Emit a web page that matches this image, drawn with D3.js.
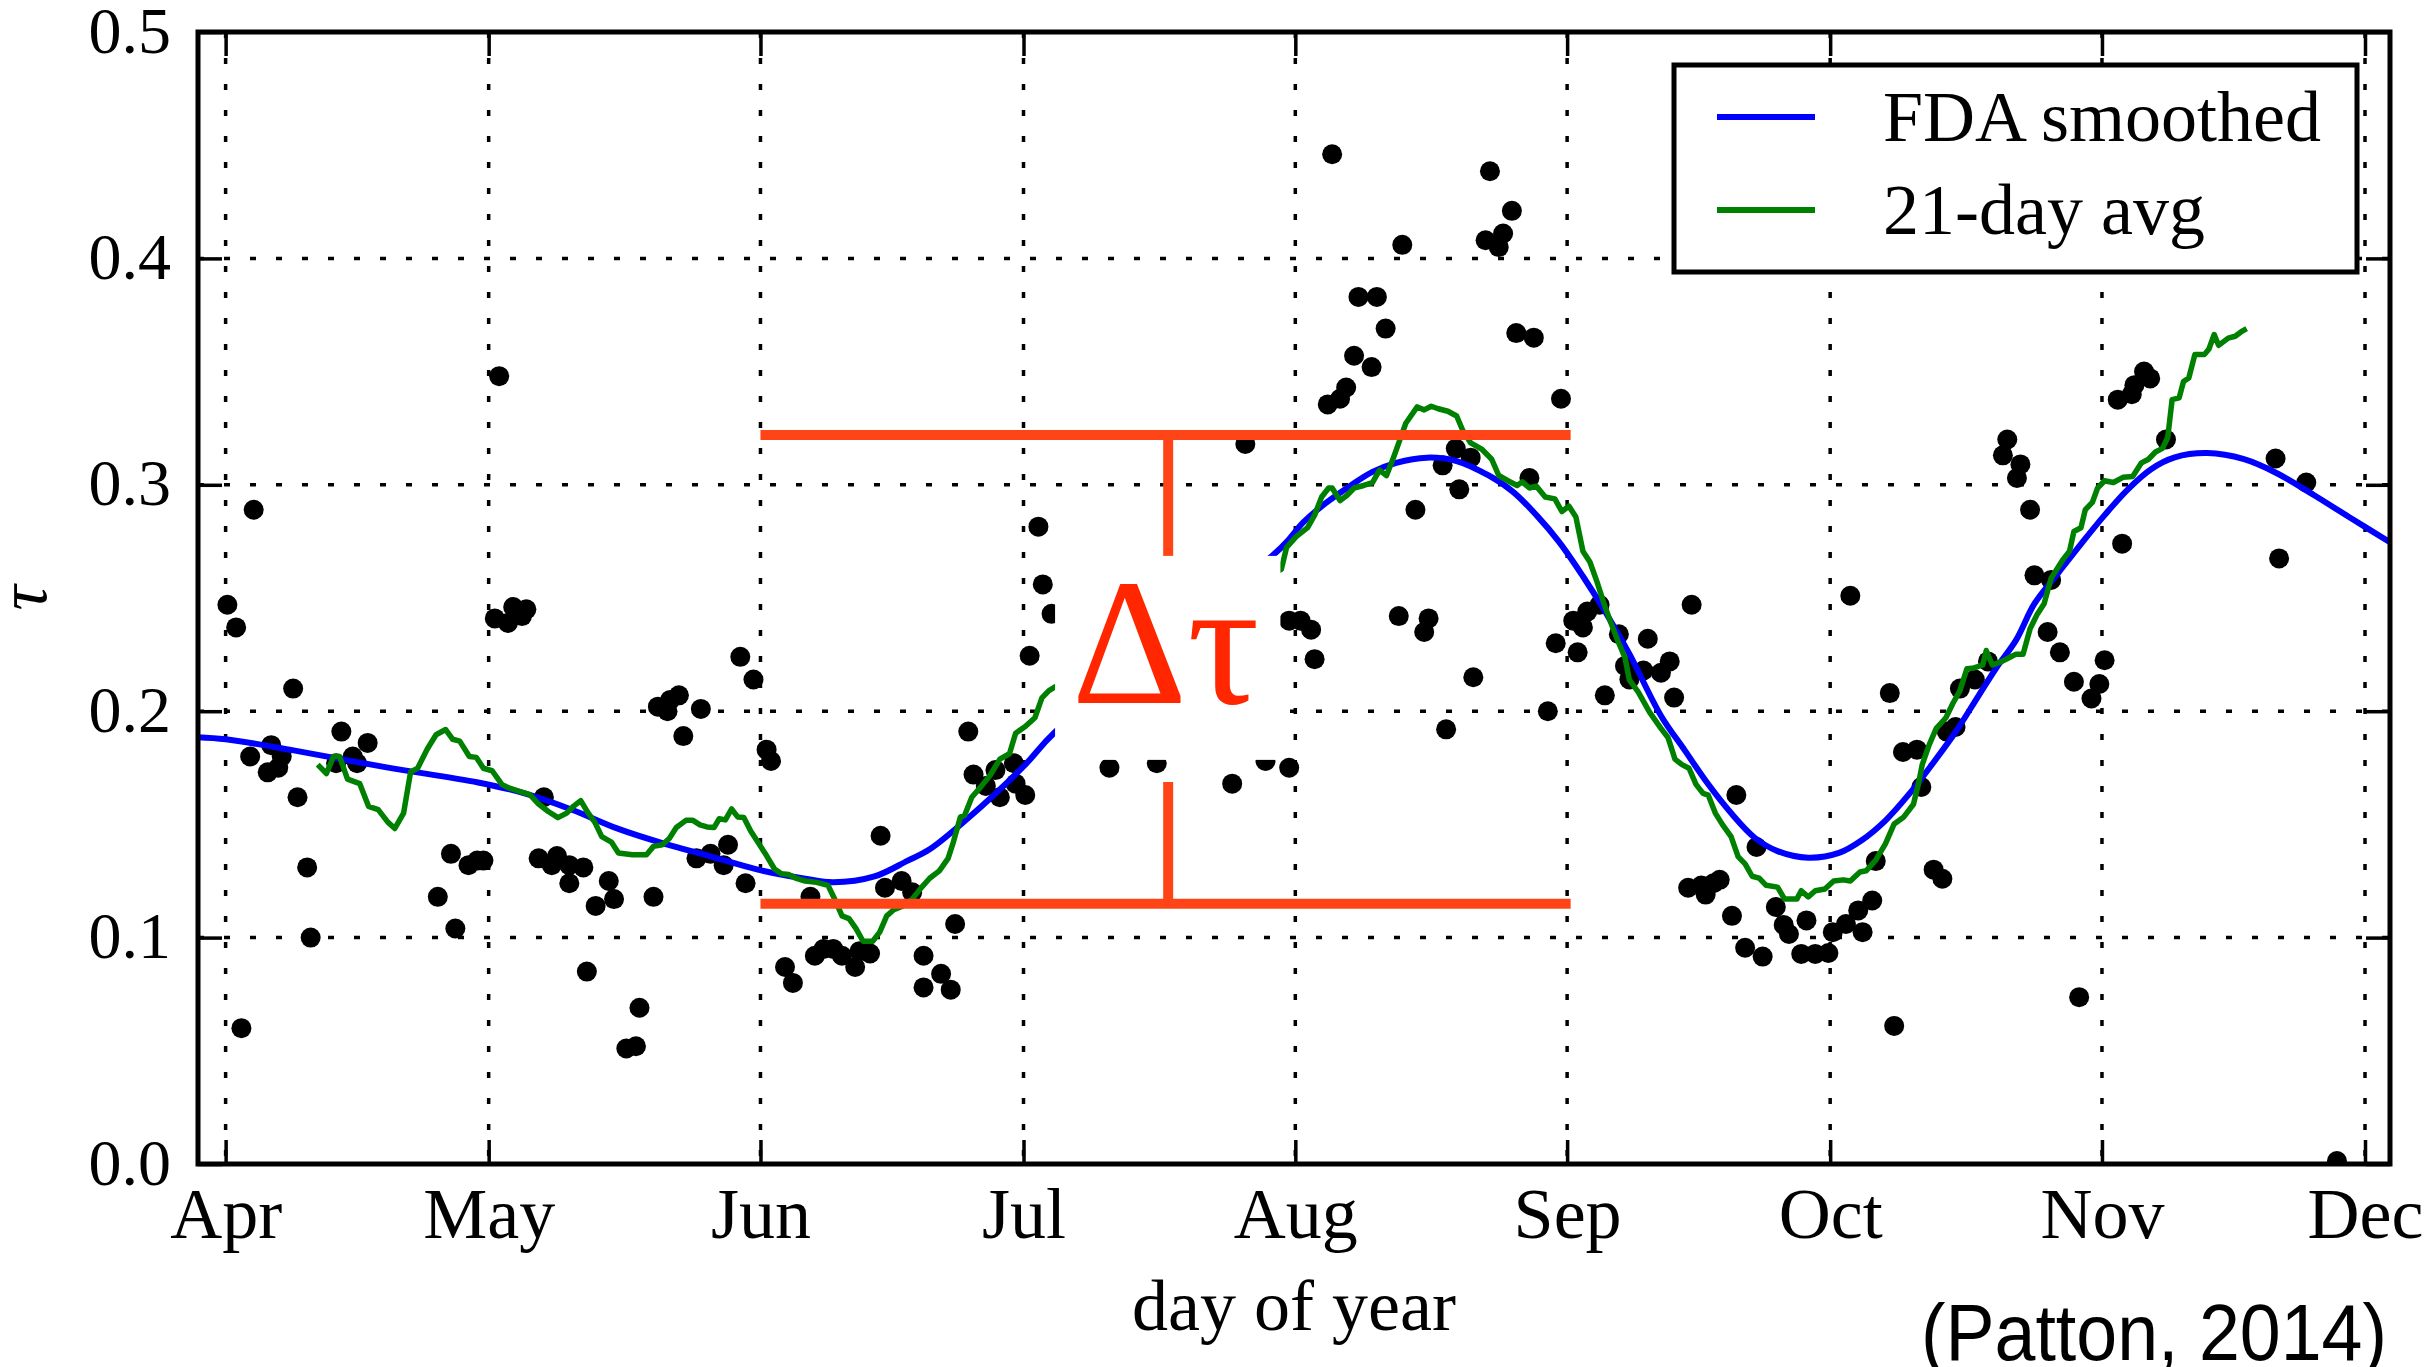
<!DOCTYPE html>
<html>
<head>
  <title>tau by day of year</title>
  <script src="https://d3js.org/d3.v7.min.js"></script>
  <style>
    body { margin: 0; background: #fff; }
    svg text { font-family: "Liberation Serif", "DejaVu Serif", serif; fill: #000; }
    .grid line { stroke: #000; stroke-width: 3.5; stroke-dasharray: 6, 20; }
    .axis path { display: none; }
    .axis line { stroke: #000; stroke-width: 3.5; }
  </style>
</head>
<body>
<div id="chart"></div>
<script>
  // month ticks, as day of year (2014)
  const monthDays = [91, 121, 152, 182, 213, 244, 274, 305, 335];
  const monthNames = ["Apr", "May", "Jun", "Jul", "Aug", "Sep", "Oct", "Nov", "Dec"];
  const tauTicks = [0, 0.1, 0.2, 0.3, 0.4, 0.5];

  // daily observations
  const obsDay = [91.2, 92.2, 92.8, 93.8, 94.2, 95.8, 96.2, 97.0, 97.4, 98.7, 99.2, 100.3, 100.7,
    103.6, 104.2, 105.5, 106.0, 107.2, 115.2, 116.7, 117.2, 118.7, 119.7, 120.4, 121.7, 122.2,
    123.2, 123.8, 124.8, 125.3, 126.7, 127.3, 128.2, 128.8, 130.2, 130.2, 131.8, 132.2, 133.2,
    134.7, 135.3, 136.7, 137.8, 138.2, 139.8, 140.3, 141.4, 141.7, 142.7, 143.2, 144.7, 145.2,
    146.3, 147.8, 148.3, 149.7, 150.3, 151.2, 152.7, 153.2, 154.8, 155.7, 157.7, 158.2, 159.2,
    160.3, 161.3, 162.8, 163.3, 164.5, 165.7, 166.2, 168.1, 169.3, 170.6, 170.6, 172.6, 173.7,
    174.2, 175.7, 176.3, 177.7, 178.8, 179.3, 180.9, 181.1, 182.2, 182.7, 183.7, 184.2, 185.2,
    191.8, 197.2, 205.8, 207.3, 209.6, 212.3, 212.3, 213.6, 214.8, 215.2, 216.7, 217.2, 218.1,
    218.8, 219.7, 220.2, 221.7, 222.3, 223.3, 224.8, 225.2, 226.7, 227.7, 228.2, 229.8, 230.2,
    231.3, 231.7, 233.0, 233.3, 234.7, 235.2, 236.2, 236.7, 237.7, 238.2, 239.7, 240.2, 241.8,
    242.7, 243.3, 244.7, 245.2, 245.8, 246.3, 247.7, 248.3, 249.9, 250.6, 251.1, 252.7, 253.2,
    254.7, 255.7, 256.2, 257.8, 258.2, 259.3, 259.8, 260.7, 261.4, 262.8, 263.3, 264.3, 265.6,
    266.3, 267.8, 268.7, 269.3, 270.7, 271.3, 272.3, 273.8, 274.3, 275.8, 276.3, 277.2, 277.7,
    278.8, 279.2, 280.8, 281.3, 282.3, 283.9, 284.4, 285.8, 286.8, 287.3, 288.3, 288.8, 290.5,
    292.0, 293.7, 294.2, 295.3, 295.7, 296.8, 297.3, 298.8, 299.2, 300.2, 301.8, 302.4, 303.8,
    304.7, 305.3, 306.8, 307.3, 308.4, 308.7, 309.8, 310.5, 312.3, 324.8, 325.2, 328.3, 331.8];
  const obsTau = [0.247, 0.237, 0.060, 0.180, 0.289, 0.173, 0.185, 0.175, 0.180, 0.210, 0.162, 0.131, 0.100,
    0.177, 0.191, 0.180, 0.177, 0.186, 0.118, 0.137, 0.104, 0.132, 0.134, 0.134, 0.241, 0.348,
    0.239, 0.246, 0.242, 0.245, 0.135, 0.162, 0.132, 0.136, 0.132, 0.124, 0.131, 0.085, 0.114,
    0.125, 0.117, 0.051, 0.052, 0.069, 0.118, 0.202, 0.200, 0.205, 0.207, 0.189, 0.135, 0.201,
    0.137, 0.132, 0.141, 0.224, 0.124, 0.214, 0.183, 0.178, 0.087, 0.080, 0.118, 0.092, 0.095,
    0.095, 0.092, 0.087, 0.094, 0.093, 0.145, 0.122, 0.125, 0.120, 0.092, 0.078, 0.084, 0.077,
    0.106, 0.191, 0.172, 0.167, 0.174, 0.162, 0.177, 0.168, 0.163, 0.2245, 0.2815, 0.256, 0.243,
    0.175, 0.177, 0.168, 0.318, 0.178, 0.175, 0.240, 0.240, 0.236, 0.223, 0.3355, 0.446, 0.338,
    0.343, 0.357, 0.383, 0.352, 0.383, 0.369, 0.242, 0.406, 0.289, 0.235, 0.241, 0.3086, 0.192,
    0.316, 0.298, 0.312, 0.215, 0.408, 0.4385, 0.405, 0.411, 0.421, 0.367, 0.303, 0.365, 0.200,
    0.230, 0.338, 0.240, 0.226, 0.237, 0.244, 0.247, 0.207, 0.234, 0.220, 0.214, 0.218, 0.232,
    0.217, 0.222, 0.206, 0.122, 0.247, 0.123, 0.119, 0.124, 0.1255, 0.1096, 0.163, 0.0955, 0.140,
    0.0916, 0.1135, 0.1056, 0.1016, 0.0928, 0.1076, 0.0928, 0.0932, 0.1024, 0.106, 0.251, 0.112, 0.1024,
    0.1164, 0.1338, 0.208, 0.061, 0.182, 0.183, 0.1665, 0.130, 0.126, 0.191, 0.193, 0.210, 0.214,
    0.222, 0.313, 0.320, 0.303, 0.309, 0.289, 0.260, 0.235, 0.258, 0.226, 0.213, 0.0737, 0.2056,
    0.212, 0.2225, 0.3376, 0.274, 0.340, 0.344, 0.350, 0.347, 0.320, 0.3116, 0.2675, 0.301, 0.0013];

  // FDA smoothed curve
  const fdaDay = [87.85, 91, 98.6, 109.2, 119.8, 125.1, 130.5, 135.8, 141.1, 146.4, 151.7, 157.1,
    160.3, 165, 168.8, 171.3, 175.6, 182, 185.6, 211.4, 213.9, 216.5, 219.2, 221.8, 224.5, 228,
    231.4, 235.1, 237.8, 240.5, 243.1, 245.8, 248.4, 251.1, 254.7, 257.4, 260.1, 262.7, 265.4,
    268, 271.5, 275, 277.6, 280.3, 282.9, 285.6, 288.3, 290.9, 293, 295.2, 297.3, 300, 302.6,
    305.3, 307.9, 310.6, 313.3, 317, 321.2, 325, 329.2, 333.5, 337.85];
  const fdaTau = [0.1885, 0.1876, 0.1828, 0.1753, 0.1685, 0.1637, 0.1565, 0.148, 0.1414, 0.1358, 0.130, 0.126,
    0.1244, 0.127, 0.134, 0.139, 0.1525, 0.1756, 0.1908, 0.2723, 0.2834, 0.292, 0.2994, 0.3057, 0.3097, 0.312,
    0.3105, 0.304, 0.297, 0.2866, 0.2747, 0.2596, 0.2436, 0.2253, 0.198, 0.1828, 0.1677, 0.155, 0.1441,
    0.1382, 0.1353, 0.1374, 0.143, 0.1517, 0.1629, 0.1764, 0.1908, 0.2067, 0.2194, 0.2314, 0.2475, 0.261, 0.2738,
    0.2866, 0.2978, 0.3069, 0.3121, 0.314, 0.3113, 0.305, 0.2954, 0.285, 0.2746];

  // 21-day running average
  const avgDay = [101.5, 102.5, 103.3, 104.0, 104.9, 106.3, 107.3, 108.4, 109.5, 110.3, 111.3, 112.1,
    112.9, 114.0, 115.0, 116.1, 116.9, 117.7, 118.8, 119.6, 120.4, 121.4, 122.5, 123.3, 124.6,
    125.7, 126.7, 127.8, 128.9, 129.9, 130.7, 131.5, 132.3, 133.1, 133.9, 135.0, 135.8, 137.4,
    139.0, 139.8, 140.8, 141.6, 142.4, 143.5, 144.3, 145.1, 145.9, 146.7, 147.3, 148.0, 148.7,
    149.4, 150.1, 150.9, 151.7, 152.5, 153.6, 154.4, 155.2, 156.0, 157.1, 158.4, 159.7, 160.5,
    161.3, 162.1, 162.9, 163.7, 164.8, 165.6, 166.4, 167.2, 168.2, 169.3, 170.4, 171.3, 172.4,
    173.4, 174.0, 174.8, 175.3, 176.1, 177.2, 178.2, 179.3, 180.4, 181.1, 182.2, 183.3, 184.1,
    184.9, 185.6, 211.4, 212.0, 213.1, 214.4, 215.2, 216.0, 216.8, 217.2, 218.1, 218.9, 219.7,
    220.8, 221.8, 222.6, 223.4, 224.2, 224.8, 225.6, 226.9, 227.7, 228.5, 229.3, 230.4, 231.4,
    232.1, 233.0, 234.3, 235.4, 236.2, 237.3, 238.3, 238.9, 239.7, 240.5, 241.5, 242.6, 243.4,
    244.2, 245.0, 245.8, 246.6, 247.4, 248.2, 249.0, 249.8, 250.6, 251.1, 252.1, 253.4, 254.7,
    255.5, 256.3, 257.1, 257.9, 258.7, 259.5, 260.1, 260.9, 261.7, 262.7, 263.5, 264.3, 265.1,
    265.9, 266.7, 268.0, 268.8, 270.2, 270.7, 271.5, 272.3, 273.4, 274.4, 275.5, 276.3, 277.4,
    278.1, 279.2, 280.3, 281.3, 282.4, 283.5, 284.1, 284.5, 285.3, 286.1, 287.2, 288.0, 288.8,
    289.6, 290.4, 291.4, 291.8, 292.5, 293.6, 294.4, 295.2, 296.0, 296.8, 297.6, 298.4, 299.2,
    300.5, 301.3, 301.8, 302.6, 303.1, 303.9, 304.5, 305.3, 306.3, 307.4, 308.5, 309.5, 310.3,
    311.1, 311.9, 312.5, 313.0, 313.8, 314.3, 314.9, 315.6, 316.7, 317.2, 317.8, 318.3, 319.4,
    320.2, 321.0, 321.5];
  const avgTau = [0.1764, 0.1725, 0.180, 0.180, 0.170, 0.168, 0.158, 0.1565, 0.151, 0.1482, 0.155, 0.1732,
    0.1748, 0.1833, 0.1896, 0.1919, 0.1876, 0.1868, 0.180, 0.1796, 0.1748, 0.1737, 0.1677, 0.1661, 0.1645,
    0.1632, 0.159, 0.1557, 0.153, 0.155, 0.1581, 0.1605, 0.1553, 0.151, 0.1446, 0.1422, 0.1374, 0.1366,
    0.1366, 0.1403, 0.141, 0.1438, 0.1486, 0.1518, 0.1518, 0.1498, 0.1489, 0.1486, 0.1525, 0.152, 0.1568,
    0.1533, 0.153, 0.147, 0.1422, 0.1374, 0.1303, 0.1282, 0.1279, 0.1263, 0.125, 0.1244, 0.1231, 0.1167,
    0.1096, 0.1084, 0.104, 0.0984, 0.0984, 0.1024, 0.1096, 0.1123, 0.1139, 0.117, 0.1223, 0.1262, 0.1295,
    0.135, 0.1422, 0.1533, 0.1541, 0.162, 0.1669, 0.1717, 0.1788, 0.1812, 0.1903, 0.1932, 0.1971, 0.2059,
    0.2091, 0.2107, 0.2627, 0.2723, 0.2771, 0.2811, 0.2866, 0.2946, 0.2986, 0.2986, 0.293, 0.2954, 0.2986,
    0.2997, 0.301, 0.3065, 0.3041, 0.3121, 0.3185, 0.3272, 0.3344, 0.3331, 0.3347, 0.3336, 0.3325, 0.3304,
    0.324, 0.3185, 0.3156, 0.3113, 0.3041, 0.3017, 0.2997, 0.3013, 0.2986, 0.2994, 0.2946, 0.2938, 0.2882,
    0.2906, 0.2858, 0.2707, 0.2659, 0.2572, 0.2476, 0.2389, 0.2309, 0.2237, 0.2138, 0.2085, 0.1996, 0.1924,
    0.1884, 0.1788, 0.1764, 0.1748, 0.1677, 0.1637, 0.1629, 0.155, 0.150, 0.1446, 0.1358, 0.1326, 0.1271,
    0.1263, 0.1231, 0.1223, 0.117, 0.117, 0.1207, 0.118, 0.1207, 0.1215, 0.125, 0.1255, 0.125, 0.129,
    0.1295, 0.1342, 0.1414, 0.1502, 0.1533, 0.1589, 0.1685, 0.1764, 0.1852, 0.1924, 0.1971, 0.2035, 0.2091,
    0.2188, 0.2191, 0.2204, 0.2268, 0.2204, 0.222, 0.2236, 0.2252, 0.2252, 0.2364, 0.2427, 0.2475, 0.2587,
    0.2667, 0.2707, 0.2794, 0.281, 0.289, 0.2922, 0.2986, 0.3018, 0.301, 0.3033, 0.3037, 0.3097, 0.3113,
    0.3145, 0.3161, 0.3209, 0.3376, 0.3384, 0.3456, 0.3472, 0.3576, 0.3576, 0.36, 0.3664, 0.3616, 0.3648,
    0.3656, 0.3679, 0.369];

  // delta-tau annotation, in data units
  const spanDays = [152, 244.4];        // horizontal bars, Jun 1 to Sep 1
  const spanTau = [0.115, 0.322];       // low and high bar
  const markDay = 198.5;                // vertical bar
  const barStopTau = [0.1687, 0.2686];  // where the vertical bar meets the label
  const labelBoxDays = [185.6, 211.3];
  const labelBoxTau = [0.1785, 0.2686];
  const labelDay = 198.2, labelTau = 0.2036;

  const W = 2424, H = 1367;
  const plot = { left: 198, right: 2390, top: 32, bottom: 1164 };

  const x = d3.scaleLinear().domain([87.85, 337.85]).range([plot.left, plot.right]);
  const y = d3.scaleLinear().domain([0, 0.5]).range([plot.bottom, plot.top]);

  const svg = d3.select("#chart").append("svg")
    .attr("width", W)
    .attr("height", H);

  svg.append("defs").append("clipPath")
      .attr("id", "plot-area")
    .append("rect")
      .attr("x", plot.left).attr("y", plot.top)
      .attr("width", plot.right - plot.left)
      .attr("height", plot.bottom - plot.top);

  // dotted grid
  const grid = svg.append("g").attr("class", "grid");
  grid.selectAll("line.v").data(monthDays).join("line")
    .attr("class", "v")
    .attr("x1", d => x(d)).attr("x2", d => x(d))
    .attr("y1", plot.top).attr("y2", plot.bottom);
  grid.selectAll("line.h").data(tauTicks.slice(1, -1)).join("line")
    .attr("class", "h")
    .attr("x1", plot.left).attr("x2", plot.right)
    .attr("y1", d => y(d)).attr("y2", d => y(d));

  const data = svg.append("g").attr("clip-path", "url(#plot-area)");

  // observations
  const obs = obsDay.map((d, i) => ({ day: d, tau: obsTau[i] }));
  data.selectAll("circle").data(obs).join("circle")
    .attr("cx", d => x(d.day))
    .attr("cy", d => y(d.tau))
    .attr("r", 10)
    .attr("fill", "#000");

  const fda = fdaDay.map((d, i) => ({ day: d, tau: fdaTau[i] }));
  const avg = avgDay.map((d, i) => ({ day: d, tau: avgTau[i] }));

  const smoothLine = d3.line().x(d => x(d.day)).y(d => y(d.tau)).curve(d3.curveCatmullRom);
  const stepLine = d3.line().x(d => x(d.day)).y(d => y(d.tau));

  data.append("path").datum(fda)
    .attr("fill", "none").attr("stroke", "#0000ff").attr("stroke-width", 6)
    .attr("d", smoothLine);

  data.append("path").datum(avg)
    .attr("fill", "none").attr("stroke", "#008000").attr("stroke-width", 5.5)
    .attr("stroke-linejoin", "round")
    .attr("d", stepLine);

  // delta tau bars
  const ann = svg.append("g").attr("stroke", "#ff4517").attr("stroke-width", 10);
  ann.selectAll("line.span").data(spanTau).join("line")
    .attr("class", "span")
    .attr("x1", x(spanDays[0])).attr("x2", x(spanDays[1]))
    .attr("y1", d => y(d)).attr("y2", d => y(d));
  ann.selectAll("line.mark").data([0, 1]).join("line")
    .attr("class", "mark")
    .attr("x1", x(markDay)).attr("x2", x(markDay))
    .attr("y1", i => y(spanTau[i]))
    .attr("y2", i => y(barStopTau[i]));

  svg.append("rect")
    .attr("x", x(labelBoxDays[0]))
    .attr("y", y(labelBoxTau[1]))
    .attr("width", x(labelBoxDays[1]) - x(labelBoxDays[0]))
    .attr("height", y(labelBoxTau[0]) - y(labelBoxTau[1]))
    .attr("fill", "#fff");

  svg.append("text")
    .attr("x", x(labelDay))
    .attr("y", y(labelTau))
    .attr("text-anchor", "middle")
    .style("font-size", "180px")
    .style("fill", "#ff2600")
    .text("Δτ");

  // axes with inward ticks on all four sides
  const tickLen = 24;
  const bottomAxis = svg.append("g").attr("class", "axis")
    .attr("transform", `translate(0,${plot.bottom})`)
    .call(d3.axisBottom(x).tickValues(monthDays)
      .tickFormat((d, i) => monthNames[i])
      .tickSizeInner(-tickLen).tickSizeOuter(0));
  bottomAxis.selectAll("text")
    .attr("y", 74).attr("dy", null)
    .style("font-size", "72px");

  svg.append("g").attr("class", "axis")
    .attr("transform", `translate(0,${plot.top})`)
    .call(d3.axisTop(x).tickValues(monthDays).tickFormat(() => "")
      .tickSizeInner(-tickLen).tickSizeOuter(0));

  const leftAxis = svg.append("g").attr("class", "axis")
    .attr("transform", `translate(${plot.left},0)`)
    .call(d3.axisLeft(y).tickValues(tauTicks).tickFormat(d3.format(".1f"))
      .tickSizeInner(-tickLen).tickSizeOuter(0));
  leftAxis.selectAll("text")
    .attr("x", -27).attr("y", 20).attr("dy", null)
    .style("font-size", "66px");

  svg.append("g").attr("class", "axis")
    .attr("transform", `translate(${plot.right},0)`)
    .call(d3.axisRight(y).tickValues(tauTicks).tickFormat(() => "")
      .tickSizeInner(-tickLen).tickSizeOuter(0));

  svg.append("rect")
    .attr("x", plot.left).attr("y", plot.top)
    .attr("width", plot.right - plot.left)
    .attr("height", plot.bottom - plot.top)
    .attr("fill", "none").attr("stroke", "#000").attr("stroke-width", 5);

  // axis titles
  svg.append("text")
    .attr("x", (plot.left + plot.right) / 2)
    .attr("y", 1330)
    .attr("text-anchor", "middle")
    .style("font-size", "72px")
    .text("day of year");

  svg.append("text")
    .attr("transform", `translate(46,${(plot.top + plot.bottom) / 2}) rotate(-90)`)
    .attr("text-anchor", "middle")
    .style("font-size", "70px")
    .style("font-style", "italic")
    .text("τ");

  // legend
  const legendItems = [
    { label: "FDA smoothed", color: "#0000ff" },
    { label: "21-day avg", color: "#008000" }
  ];
  const legend = svg.append("g").attr("transform", "translate(1674,65)");
  legend.append("rect")
    .attr("width", 683).attr("height", 207)
    .attr("fill", "#fff").attr("stroke", "#000").attr("stroke-width", 5);
  const item = legend.selectAll("g.item").data(legendItems).join("g")
    .attr("class", "item")
    .attr("transform", (d, i) => `translate(0,${52 + i * 93})`);
  item.append("line")
    .attr("x1", 43).attr("x2", 141)
    .attr("stroke", d => d.color).attr("stroke-width", 6);
  item.append("text")
    .attr("x", 209).attr("y", 24)
    .style("font-size", "72px")
    .text(d => d.label);

  // source note
  svg.append("text")
    .attr("x", 1921).attr("y", 1360)
    .attr("textLength", 466)
    .attr("lengthAdjust", "spacingAndGlyphs")
    .style("font-family", "'Liberation Sans', Arial, sans-serif")
    .style("font-size", "80px")
    .text("(Patton, 2014)");
</script>
</body>
</html>
